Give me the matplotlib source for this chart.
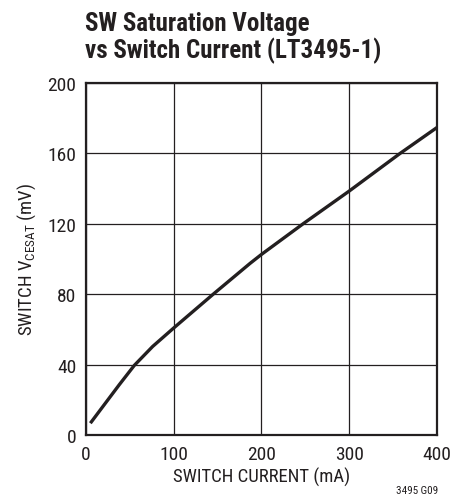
import matplotlib
matplotlib.use("Agg")
import matplotlib.pyplot as plt

plt.rcParams['font.family'] = ['Roboto Condensed', 'Archivo Narrow', 'DejaVu Sans']

# switch current (mA) vs saturation voltage (mV)
current = [5, 19, 38, 55, 76, 100, 145, 187, 200, 248, 300, 358, 400]
vcesat = [6.7, 16, 28.6, 39.5, 50.3, 60.8, 80, 97.5, 102.6, 120.2, 138.6, 160, 174.7]

x_ticks = [0, 100, 200, 300, 400]
y_ticks = [0, 40, 80, 120, 160, 200]

ink = "#231f20"

fig = plt.figure(figsize=(4.66, 5.02), dpi=100)
ax = fig.add_axes([0.1845, 0.1315, 0.7532, 0.7012])

ax.plot(current, vcesat, color=ink, lw=2.4, solid_capstyle="butt", solid_joinstyle="round")

ax.set_xlim(0, 400)
ax.set_ylim(0, 200)
ax.set_xticks(x_ticks)
ax.set_yticks(y_ticks)
ax.grid(True, color=ink, lw=0.9)
ax.tick_params(length=0, labelsize=14, pad=7, colors=ink)
for s in ax.spines.values():
    s.set_linewidth(1.6)
    s.set_color(ink)

ax.set_xlabel("SWITCH CURRENT (mA)", fontsize=13.5, color=ink, labelpad=3)
ax.set_ylabel("SWITCH V$_\\mathregular{CESAT}$ (mV)", fontsize=13.5, color=ink, labelpad=7)

fig.text(0.182, 0.977, "SW Saturation Voltage\nvs Switch Current (LT3495-1)",
         fontsize=18, fontweight="bold", va="top", ha="left", color=ink,
         linespacing=1.1)
fig.text(0.94, 0.012, "3495 G09", fontsize=8, ha="right", va="bottom", color=ink)

fig.savefig("out.png", dpi=100)
